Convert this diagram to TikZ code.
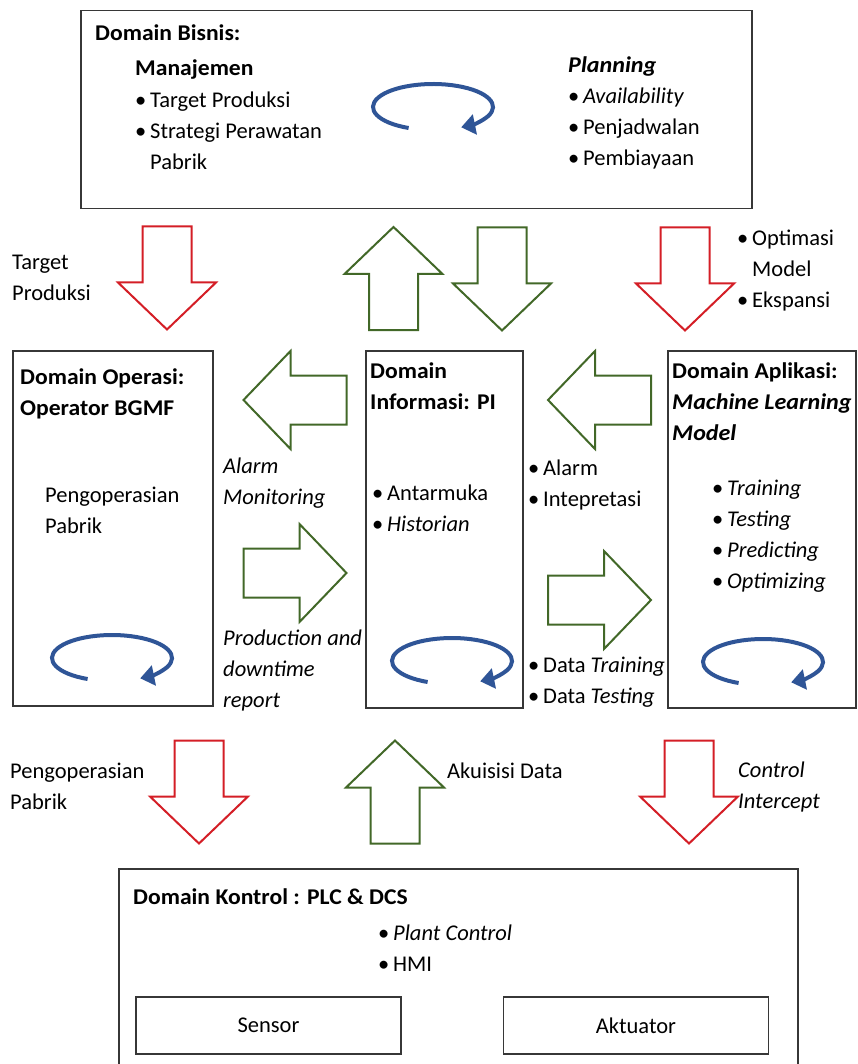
\documentclass[tikz,border=0pt]{standalone}
\usepackage{fontspec}
\setmainfont{Carlito}[BoldFeatures={FakeStretch=1.05},BoldItalicFeatures={FakeStretch=1.07}]
\usetikzlibrary{arrows.meta}

\definecolor{boxline}{RGB}{55,55,55}
\definecolor{flowred}{RGB}{212,30,38}
\definecolor{flowgreen}{RGB}{66,104,40}
\definecolor{cycleblue}{RGB}{47,85,151}

% bullet with a fixed gap before the item text
\newcommand\dotitem{\makebox[15pt][l]{\textbullet}}

\begin{document}
\begin{tikzpicture}[x=1pt,y=-1pt,
  domainbox/.style={draw=boxline,line width=1.5pt,anchor=north west,inner sep=0pt},
  unitbox/.style={draw=boxline,line width=1.3pt,minimum width=265pt,minimum height=57pt,inner sep=0pt,font=\fontsize{22.5}{31}\selectfont},
  % text blocks: placed by the baseline of their first line, natural word spacing
  txt/.style={anchor=base west,inner sep=0pt,text width=330pt,align=left,
    font=\fontsize{22.5}{31}\selectfont,
    execute at begin node={\spaceskip=0pt\xspaceskip=0pt\relax}},
  txtb/.style={txt,font=\fontsize{22.5}{31}\selectfont\bfseries},
  redflow/.style={draw=flowred},
  greenflow/.style={draw=flowgreen},
  blockarrow/.pic={
    \draw[pic actions,line width=2pt,line join=miter,fill=white]
      (-51.5,-24.5) -- (4.5,-24.5) -- (4.5,-49) -- (51.5,0) -- (4.5,49) -- (4.5,24.5) -- (-51.5,24.5) -- cycle;},
  loopmark/.pic={
    \draw[cycleblue,line width=4pt,-{Triangle[length=14pt,width=20pt]}]
      (246:60pt and 23pt) arc[start angle=246,end angle=-62,x radius=60pt,y radius=23pt];}
]
\useasboundingbox (0,0) rectangle (857,1064);

% ---------- domain boxes ----------
\node[domainbox,minimum width=671pt,minimum height=198pt] (bisnis) at (80,10) {};
\node[domainbox,minimum width=200pt,minimum height=355pt] (operasi) at (12,350) {};
\node[domainbox,minimum width=157pt,minimum height=357pt] (informasi) at (365,350) {};
\node[domainbox,minimum width=188pt,minimum height=357pt] (aplikasi) at (667,350) {};
\node[domainbox,minimum width=679pt,minimum height=220pt] (kontrol) at (118,868) {};
\node[unitbox] (sensor) at (268.5,1025.5) {Sensor};
\node[unitbox] (aktuator) at (636,1025.5) {Aktuator};

% ---------- business domain ----------
\node[txtb] (bisnisT) at (95,41) {Domain Bisnis:};
\node[txtb] (manajemenT) at (135,76) {Manajemen};
\node[txt] (manajemenL) at (135,108) {\dotitem Target Produksi\\ \dotitem Strategi Perawatan\\ \hspace*{15pt}Pabrik};
\node[txt] (planningL) at (568,73) {\textbf{\textit{Planning}}\\ \dotitem\textit{Availability}\\ \dotitem Penjadwalan\\ \dotitem Pembiayaan};
\pic at (433,107) {loopmark};

% ---------- flows between business and middle row ----------
\pic[redflow,rotate=-90] (fTarget) at (167,278) {blockarrow};
\pic[greenflow,rotate=90] (fUp) at (393.5,278.5) {blockarrow};
\pic[greenflow,rotate=-90] (fDown) at (502,279) {blockarrow};
\pic[redflow,rotate=-90] (fOpt) at (685,279) {blockarrow};
\node[txt] (targetL) at (12,270) {Target\\ Produksi};
\node[txt] (optL) at (737,246) {\dotitem Optimasi\\ \hspace*{15pt}Model\\ \dotitem Ekspansi};

% ---------- operation domain ----------
\node[txtb] (operasiT) at (20,384) {Domain Operasi:\\ Operator BGMF};
\node[txt] (operasiL) at (45,502) {Pengoperasian\\ Pabrik};
\pic at (112,658) {loopmark};

% ---------- information domain ----------
\node[txtb] (informasiT) at (370,378) {Domain\\ Informasi: PI};
\node[txt] (informasiL) at (372,500) {\dotitem Antarmuka\\ \dotitem\textit{Historian}};
\pic at (452,661) {loopmark};

% ---------- application domain ----------
\node[txtb] (aplikasiT) at (672,378) {Domain Aplikasi:\\ \textit{Machine Learning}\\ \textit{Model}};
\node[txt] (aplikasiL) at (712,495) {\dotitem\textit{Training}\\ \dotitem\textit{Testing}\\ \dotitem\textit{Predicting}\\ \dotitem\textit{Optimizing}};
\pic at (763,662) {loopmark};

% ---------- flows inside the middle row ----------
\pic[greenflow,rotate=180] (fAlarm) at (295,400) {blockarrow};
\pic[greenflow] (fReport) at (295,573) {blockarrow};
\pic[greenflow,rotate=180] (fInterp) at (599.5,400) {blockarrow};
\pic[greenflow] (fData) at (599.5,600) {blockarrow};
\node[txt] (alarmL) at (223,473) {\textit{Alarm}\\ \textit{Monitoring}};
\node[txt] (reportL) at (223,645) {\textit{Production and}\\ \textit{downtime}\\ \textit{report}};
\node[txt] (interpL) at (528,475) {\dotitem Alarm\\ \dotitem Intepretasi};
\node[txt] (dataL) at (528,672) {\dotitem Data \textit{Training}\\ \dotitem Data \textit{Testing}};

% ---------- flows between middle row and control ----------
\pic[redflow,rotate=-90] (fOper) at (199,792) {blockarrow};
\pic[greenflow,rotate=90] (fAkuisisi) at (395,792) {blockarrow};
\pic[redflow,rotate=-90] (fControl) at (689,792) {blockarrow};
\node[txt] (operL) at (10,778) {Pengoperasian\\ Pabrik};
\node[txt] (akuisisiL) at (447,778) {Akuisisi Data};
\node[txt] (controlL) at (738,777) {\textit{Control}\\ \textit{Intercept}};

% ---------- control domain ----------
\node[txtb] (kontrolT) at (133,904) {Domain Kontrol : PLC \& DCS};
\node[txt] (kontrolL) at (378,940) {\dotitem\textit{Plant Control}\\ \dotitem HMI};
\end{tikzpicture}
\end{document}
